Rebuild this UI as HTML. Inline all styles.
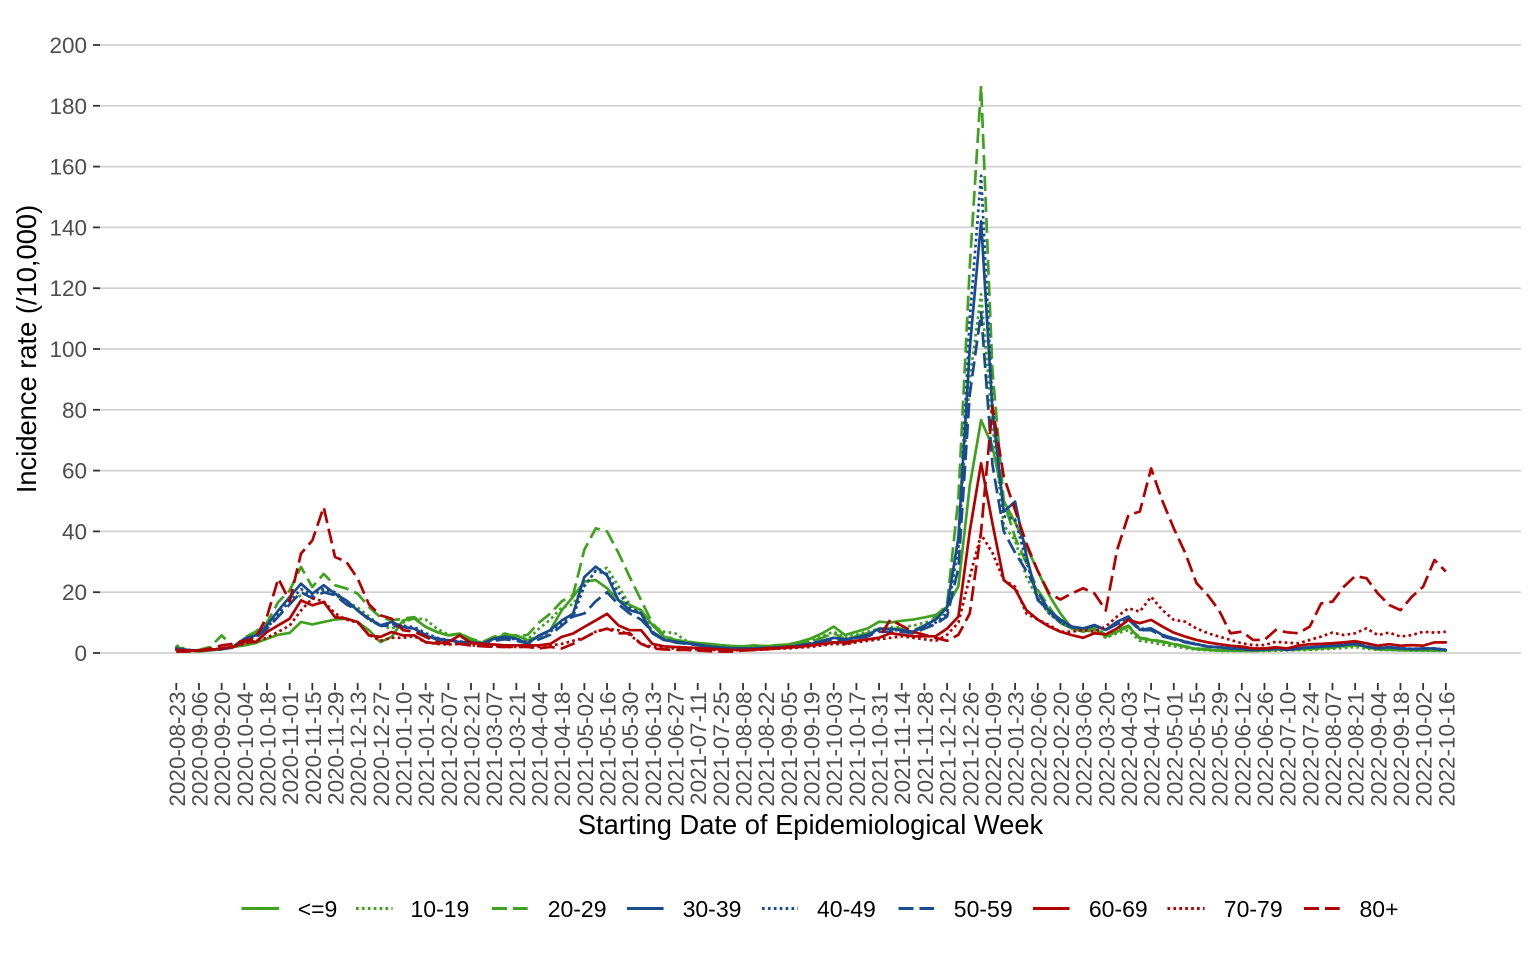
<!DOCTYPE html>
<html><head><meta charset="utf-8">
<style>
html,body{margin:0;padding:0;background:#fff;}
svg{display:block;font-family:"Liberation Sans",Arial,sans-serif;}
.yt{font-size:22.5px;fill:#4d4d4d;text-anchor:end;}
.xt{font-size:22.5px;fill:#4d4d4d;text-anchor:end;}
.ttl{font-size:27.3px;fill:#000;text-anchor:middle;}
.lg{font-size:23px;fill:#000;}
</style></head>
<body>
<svg id="c" width="1536" height="960" xmlns="http://www.w3.org/2000/svg">
<rect width="1536" height="960" fill="#fff"/>
<g id="grid"></g>
<g id="yl">
<text class="yt" x="87" y="661">0</text>
<text class="yt" x="87" y="600.2">20</text>
<text class="yt" x="87" y="539.4">40</text>
<text class="yt" x="87" y="478.6">60</text>
<text class="yt" x="87" y="417.8">80</text>
<text class="yt" x="87" y="357">100</text>
<text class="yt" x="87" y="296.2">120</text>
<text class="yt" x="87" y="235.4">140</text>
<text class="yt" x="87" y="174.6">160</text>
<text class="yt" x="87" y="113.8">180</text>
<text class="yt" x="87" y="53">200</text>
</g>
<g id="xl">
<text class="xt" transform="translate(184.8,691.5) rotate(-90)">2020-08-23</text>
<text class="xt" transform="translate(207.47,691.5) rotate(-90)">2020-09-06</text>
<text class="xt" transform="translate(230.14,691.5) rotate(-90)">2020-09-20</text>
<text class="xt" transform="translate(252.81,691.5) rotate(-90)">2020-10-04</text>
<text class="xt" transform="translate(275.48,691.5) rotate(-90)">2020-10-18</text>
<text class="xt" transform="translate(298.15,691.5) rotate(-90)">2020-11-01</text>
<text class="xt" transform="translate(320.82,691.5) rotate(-90)">2020-11-15</text>
<text class="xt" transform="translate(343.49,691.5) rotate(-90)">2020-11-29</text>
<text class="xt" transform="translate(366.16,691.5) rotate(-90)">2020-12-13</text>
<text class="xt" transform="translate(388.83,691.5) rotate(-90)">2020-12-27</text>
<text class="xt" transform="translate(411.5,691.5) rotate(-90)">2021-01-10</text>
<text class="xt" transform="translate(434.17,691.5) rotate(-90)">2021-01-24</text>
<text class="xt" transform="translate(456.84,691.5) rotate(-90)">2021-02-07</text>
<text class="xt" transform="translate(479.51,691.5) rotate(-90)">2021-02-21</text>
<text class="xt" transform="translate(502.18,691.5) rotate(-90)">2021-03-07</text>
<text class="xt" transform="translate(524.85,691.5) rotate(-90)">2021-03-21</text>
<text class="xt" transform="translate(547.52,691.5) rotate(-90)">2021-04-04</text>
<text class="xt" transform="translate(570.19,691.5) rotate(-90)">2021-04-18</text>
<text class="xt" transform="translate(592.86,691.5) rotate(-90)">2021-05-02</text>
<text class="xt" transform="translate(615.53,691.5) rotate(-90)">2021-05-16</text>
<text class="xt" transform="translate(638.2,691.5) rotate(-90)">2021-05-30</text>
<text class="xt" transform="translate(660.87,691.5) rotate(-90)">2021-06-13</text>
<text class="xt" transform="translate(683.54,691.5) rotate(-90)">2021-06-27</text>
<text class="xt" transform="translate(706.21,691.5) rotate(-90)">2021-07-11</text>
<text class="xt" transform="translate(728.88,691.5) rotate(-90)">2021-07-25</text>
<text class="xt" transform="translate(751.55,691.5) rotate(-90)">2021-08-08</text>
<text class="xt" transform="translate(774.22,691.5) rotate(-90)">2021-08-22</text>
<text class="xt" transform="translate(796.89,691.5) rotate(-90)">2021-09-05</text>
<text class="xt" transform="translate(819.56,691.5) rotate(-90)">2021-09-19</text>
<text class="xt" transform="translate(842.23,691.5) rotate(-90)">2021-10-03</text>
<text class="xt" transform="translate(864.9,691.5) rotate(-90)">2021-10-17</text>
<text class="xt" transform="translate(887.57,691.5) rotate(-90)">2021-10-31</text>
<text class="xt" transform="translate(910.24,691.5) rotate(-90)">2021-11-14</text>
<text class="xt" transform="translate(932.91,691.5) rotate(-90)">2021-11-28</text>
<text class="xt" transform="translate(955.58,691.5) rotate(-90)">2021-12-12</text>
<text class="xt" transform="translate(978.25,691.5) rotate(-90)">2021-12-26</text>
<text class="xt" transform="translate(1000.92,691.5) rotate(-90)">2022-01-09</text>
<text class="xt" transform="translate(1023.59,691.5) rotate(-90)">2022-01-23</text>
<text class="xt" transform="translate(1046.26,691.5) rotate(-90)">2022-02-06</text>
<text class="xt" transform="translate(1068.93,691.5) rotate(-90)">2022-02-20</text>
<text class="xt" transform="translate(1091.6,691.5) rotate(-90)">2022-03-06</text>
<text class="xt" transform="translate(1114.27,691.5) rotate(-90)">2022-03-20</text>
<text class="xt" transform="translate(1136.94,691.5) rotate(-90)">2022-04-03</text>
<text class="xt" transform="translate(1159.61,691.5) rotate(-90)">2022-04-17</text>
<text class="xt" transform="translate(1182.28,691.5) rotate(-90)">2022-05-01</text>
<text class="xt" transform="translate(1204.95,691.5) rotate(-90)">2022-05-15</text>
<text class="xt" transform="translate(1227.62,691.5) rotate(-90)">2022-05-29</text>
<text class="xt" transform="translate(1250.29,691.5) rotate(-90)">2022-06-12</text>
<text class="xt" transform="translate(1272.96,691.5) rotate(-90)">2022-06-26</text>
<text class="xt" transform="translate(1295.63,691.5) rotate(-90)">2022-07-10</text>
<text class="xt" transform="translate(1318.3,691.5) rotate(-90)">2022-07-24</text>
<text class="xt" transform="translate(1340.97,691.5) rotate(-90)">2022-08-07</text>
<text class="xt" transform="translate(1363.64,691.5) rotate(-90)">2022-08-21</text>
<text class="xt" transform="translate(1386.31,691.5) rotate(-90)">2022-09-04</text>
<text class="xt" transform="translate(1408.98,691.5) rotate(-90)">2022-09-18</text>
<text class="xt" transform="translate(1431.65,691.5) rotate(-90)">2022-10-02</text>
<text class="xt" transform="translate(1454.32,691.5) rotate(-90)">2022-10-16</text>
</g>
<text class="ttl" x="810.5" y="834">Starting Date of Epidemiological Week</text>
<text class="ttl" transform="translate(36,349) rotate(-90)">Incidence rate (/10,000)</text>
<g id="lines"></g>
<g id="legend" fill="none" stroke-width="3">
<line x1="241.5" y1="908.5" x2="279" y2="908.5" stroke="#3FA11F"/>
<line x1="356" y1="908.5" x2="392.6" y2="908.5" stroke="#3FA11F" stroke-dasharray="2.7 3.2"/>
<line x1="492" y1="908.5" x2="527.7" y2="908.5" stroke="#3FA11F" stroke-dasharray="15 6"/>
<line x1="627" y1="908.5" x2="663.6" y2="908.5" stroke="#1A4B8E"/>
<line x1="762" y1="908.5" x2="798" y2="908.5" stroke="#1A4B8E" stroke-dasharray="2.7 3.2"/>
<line x1="898.5" y1="908.5" x2="934" y2="908.5" stroke="#1A4B8E" stroke-dasharray="15 6"/>
<line x1="1033" y1="908.5" x2="1069.5" y2="908.5" stroke="#B20000"/>
<line x1="1167.5" y1="908.5" x2="1204.6" y2="908.5" stroke="#B20000" stroke-dasharray="2.7 3.2"/>
<line x1="1304" y1="908.5" x2="1339.7" y2="908.5" stroke="#B20000" stroke-dasharray="15 6"/>
</g>
<g>
<text class="lg" x="297.7" y="917">&lt;=9</text>
<text class="lg" x="410.5" y="917">10-19</text>
<text class="lg" x="547.7" y="917">20-29</text>
<text class="lg" x="682.6" y="917">30-39</text>
<text class="lg" x="817" y="917">40-49</text>
<text class="lg" x="953.8" y="917">50-59</text>
<text class="lg" x="1088.9" y="917">60-69</text>
<text class="lg" x="1223.8" y="917">70-79</text>
<text class="lg" x="1359.5" y="917">80+</text>
</g>
</svg>
<script>
(function(){
var NS="http://www.w3.org/2000/svg";
function X(i){return 176.3+11.335*i;}
function Y(v){return 653-3.04*v;}
function el(tag,attrs,parent){var e=document.createElementNS(NS,tag);for(var k in attrs)e.setAttribute(k,attrs[k]);parent.appendChild(e);return e;}
var grid=document.getElementById('grid');
for(var v=0;v<=200;v+=20){
  var y=Y(v);
  el('line',{x1:100,x2:1521,y1:y,y2:y,stroke:'#d0d0d0','stroke-width':1.7},grid);
  el('line',{x1:93,x2:100,y1:y,y2:y,stroke:'#333','stroke-width':1.8},grid);
}
for(var k=0;k<57;k++){
  var x=X(2*k);
  el('line',{x1:x,x2:x,y1:683,y2:690,stroke:'#333','stroke-width':1.8},grid);
}
function parse(s){
  var pts=s.split(',').map(function(p){return p.split(':').map(Number);});
  var arr=[];
  for(var k=0;k<pts.length-1;k++){
    var i0=pts[k][0],v0=pts[k][1],i1=pts[k+1][0],v1=pts[k+1][1];
    for(var i=i0;i<=i1;i++){arr[i]=v0+(v1-v0)*(i-i0)/(i1-i0);}
  }
  return arr;
}
var G="#3FA11F",B="#1A4B8E",R="#B20000";
var DOT="2.7 3.2",DASH="15 6";
var S=[
[G,null,"0:2,1:0.9,2:0.5,3:0.9,4:1.2,5:2,6:2.5,7:3.3,8:4.7,9:6,10:6.6,11:10.2,12:9.4,13:10.2,14:11,15:11.3,16:10.2,17:7.5,18:3.6,19:5.3,20:10.7,21:11.3,22:8.6,23:6.9,24:5.8,25:6.4,26:4.2,27:3.3,28:4.7,29:5.8,30:5.8,31:4.2,32:5.4,33:7.6,34:14,35:18.5,36:23.5,37:24,38:21.3,39:17.4,40:15.8,41:14.1,42:9.2,43:5.4,44:4.3,45:3.7,46:3.3,47:3,48:2.6,49:2.3,50:2.2,51:2.5,52:2.2,53:2.6,54:2.8,55:3.7,56:4.8,57:6.5,58:8.7,59:5.9,60:7,61:8.1,62:10.3,63:10,64:10.6,65:11,66:11.7,67:12.5,68:15.2,69:22,70:55,71:76.6,72:68,73:50,74:43,75:35,76:27,77:19,78:13,79:8.1,80:7,81:8.1,82:5.4,83:7,84:8.7,85:4.8,86:4.3,87:3.7,88:2.9,89:2.1,90:1.3,91:1,92:0.8,95:0.7,97:1,100:1.3,102:1.8,104:2.8,105:2,106:1.2,108:0.9,112:0.8"],
[G,DOT,"0:2.5,1:1,2:0.8,3:1,4:1.5,5:2,6:3.5,7:6,8:9,9:13,10:17,11:19,12:20,13:21,14:19,15:17,16:15,17:12,18:9,19:8,20:10,21:11.5,22:11,23:8,24:6,25:5.5,26:4,27:3.5,28:5,29:6,30:5.5,31:4.5,32:8,33:11,34:15,35:16,36:22,37:27,38:28,39:22,40:16,41:13,42:9,43:7,44:6.5,45:4,46:3,47:2.5,48:2.2,49:2,51:2.2,52:2,54:2.5,55:3.5,56:4,57:5.5,58:7,59:5,60:6,61:7,62:8,63:8.5,64:8.5,65:9,66:10,67:11,68:14,69:35,70:90,71:118,72:75,73:42,74:37,75:25,76:18,77:13,78:10,79:8,80:7,81:7.5,82:5,83:6.5,84:7.5,85:4,86:3.5,87:2.8,88:2.2,89:1.6,90:1.1,91:0.9,92:0.7,96:0.7,100:1,103:1.6,104:2,105:1.4,106:1,112:0.7"],
[G,DASH,"0:2,1:0.5,2:1,3:2,4:5.8,5:2,6:5,7:7,8:10,9:16.8,10:20.6,11:28.3,12:21.7,13:26,14:22.3,15:21.2,16:19.5,17:15.1,18:11.8,19:10.7,20:11.3,21:11.8,22:8.6,23:6.9,24:5.8,25:6.4,26:4.7,27:3.6,28:5.3,29:6.4,30:5.3,31:6,32:10,33:13,34:17,35:19,36:34,37:41,38:40,39:33,40:25,41:17.4,42:9.8,43:6,44:4.3,45:3.7,46:3.2,47:2.8,48:2.5,49:2.2,50:2.2,51:2.3,52:2.3,53:2.5,54:2.7,55:3.2,56:3.8,57:5,58:6.5,59:4.5,60:5.5,61:6.5,62:8,63:8,64:8,65:7.5,66:9,67:12,68:16,69:51,70:127,71:186.5,72:93,73:50,74:38,75:29.5,76:20.7,77:15.2,78:9.8,79:8.1,80:7.5,81:8.5,82:6,83:7.5,84:9,85:5,86:4.5,87:3.8,88:3,89:2.2,90:1.5,91:1.2,92:1,94:0.9,97:1.1,100:1.3,102:1.8,104:2.5,105:1.8,106:1.3,108:1,112:1"],
[B,null,"0:1.5,1:1,2:0.8,3:1,4:1.5,5:2,6:4.7,7:5.8,8:9.1,9:14,10:18.4,11:22.8,12:19.5,13:22.3,14:19.5,15:17.3,16:14,17:11.3,18:9.1,19:10.2,20:8.6,21:8,22:5.8,23:4.4,24:4.2,25:3.6,26:3.6,27:3.1,28:4.7,29:5.3,30:4.7,31:3.1,32:5.8,33:7.5,34:10.7,35:12.9,36:25,37:28.4,38:25.5,39:17.4,40:14.1,41:13,42:6.5,43:4.3,44:3.7,45:3.2,46:2.8,47:2.2,48:1.8,49:1.5,50:1.4,51:1.5,52:1.6,53:1.8,54:2,55:2.5,56:3,57:4,58:5,59:4.5,60:5,61:6,62:8,63:8,64:7.5,65:7,66:9,67:11,68:15,69:38,70:100,71:142,72:80,73:46.5,74:49.8,75:32,76:17.4,77:14,78:11,79:8.7,80:8.1,81:9.2,82:7.6,83:10.3,84:12,85:7.6,86:8.1,87:5.9,88:4.8,89:3.7,90:2.9,91:2.1,92:1.9,93:1.5,94:1.3,95:1,96:1.2,97:1.5,98:1,99:1.5,100:1.9,101:2.1,102:2.4,103:2.6,104:3.2,105:2.1,106:1.5,107:1.9,108:1.5,109:1.3,110:1.5,111:1.5,112:1"],
[B,DOT,"0:1.2,2:0.8,4:1.3,5:2,6:4,7:5.5,8:8,9:13,10:17,11:21,12:19,13:21,14:20,15:17,16:14,17:11,18:9,19:9.5,20:9,21:8.5,22:6.5,23:5,24:4.2,25:3.8,26:3.5,27:3.2,28:4.5,29:5,30:4.5,31:3.5,32:5.5,33:7,34:10,35:12,36:22,37:27,38:26,39:20,40:15,41:13,42:7,43:4.5,44:3.8,45:3.2,46:2.8,47:2.2,48:1.8,49:1.6,50:1.5,51:1.6,52:1.7,53:1.9,54:2.1,55:2.6,56:3.2,57:4,58:5,59:4.5,60:5.2,61:6,62:7.5,63:7.5,64:7.5,65:7,66:8.5,67:10,68:13,69:35,70:110,71:157,72:82,73:45,74:44,75:30,76:18,77:13,78:10,79:8.5,80:8,81:9,82:7.5,83:10,84:11.5,85:8,86:8,87:6,88:4.8,89:3.8,90:3,91:2.2,92:1.9,93:1.6,94:1.4,95:1.1,96:1.2,97:1.5,98:1.1,99:1.5,100:1.9,101:2.2,102:2.4,103:2.7,104:3.2,105:2.2,106:1.6,107:1.9,108:1.6,109:1.4,110:1.5,111:1.5,112:1.1"],
[B,DASH,"0:1,2:0.8,4:1.2,5:1.8,6:3.5,7:5,8:8,9:12,10:16,11:20,12:18,13:20,14:19,15:16,16:14,17:11,18:9,19:9,20:8.5,21:8,22:6,23:4.8,24:4,25:3.6,26:3.4,27:3,28:4,29:4.5,30:4,31:3.2,32:4.5,33:6,34:9,35:12,36:13,37:17,38:20,39:16,40:13,41:11,42:7,43:4.5,44:3.5,45:3,46:2.6,47:2.1,48:1.8,49:1.6,50:1.5,51:1.6,52:1.7,53:1.9,54:2.1,55:2.5,56:3,57:3.8,58:4.5,59:4.2,60:4.8,61:5.5,62:7,63:7,64:7,65:6.5,66:8,67:9.5,68:12,69:28,70:85,71:112,72:62,73:40,74:33,75:27,76:20,77:14,78:10,79:8.5,80:8,81:9,82:7.5,83:9.5,84:11,85:7.5,86:7.5,87:5.5,88:4.5,89:3.5,90:2.8,91:2.1,92:1.8,93:1.5,94:1.3,95:1,96:1.1,97:1.4,98:1,99:1.4,100:1.8,101:2.1,102:2.3,103:2.5,104:3,105:2.1,106:1.5,107:1.8,108:1.5,109:1.3,110:1.4,111:1.4,112:1"],
[R,null,"0:1,1:0.8,2:0.8,3:1,4:1.5,5:2,6:3.6,7:3.6,8:6.9,9:9.1,10:11.3,11:17.3,12:15.7,13:16.8,14:11.8,15:11.3,16:10.2,17:5.8,18:5.3,19:6.9,20:5.8,21:5.8,22:3.6,23:3.1,24:3.6,25:5.8,26:3.3,27:3,28:2.8,29:2.5,32:2.5,33:3,34:5.3,35:6.4,36:8.6,37:10.7,38:12.9,39:9.1,40:7.5,41:7.5,42:3,43:2.2,44:2,45:1.8,46:1.6,47:1.4,48:1.2,49:1,50:1,51:1.2,52:1.2,53:1.5,54:1.8,55:2,56:2.5,57:3,58:3.5,59:3.5,60:4,61:4.5,62:5,63:6.5,64:6,65:5.5,67:5.5,68:8,69:12,70:40,71:62.4,72:42.7,73:24,74:21,75:14.1,76:11,77:8.7,78:7,79:5.9,80:5,81:6.5,82:6.1,83:8.1,84:10.9,85:9.8,86:10.9,87:8.7,88:6.7,89:5.4,90:4.3,91:3.5,92:2.9,93:2.4,94:2.1,95:1.5,96:1.5,97:1.9,98:1.5,99:2.4,100:2.9,101:3,102:3.2,103:3.5,104:3.9,105:3.2,106:2.4,107:2.9,108:2.4,109:2.6,110:2.4,111:3.5,112:3.5"],
[R,DOT,"0:0.5,1:0.5,2:0.8,3:1,4:1.5,5:2,6:3,7:4,8:5,9:7,10:9,11:14,12:18,13:17,14:13,15:11,16:10,17:6,18:4,19:5,20:5,21:5.5,22:3.5,23:3,24:2.8,25:3,26:2.5,27:2.5,28:2.2,29:2,32:2,33:2.5,34:3,35:4,36:5,37:7,38:8,39:7.5,40:6,41:3,42:2,43:1.5,44:1.5,45:1.2,46:1.2,47:1,48:1,49:0.8,50:1,51:1,52:1.2,53:1.4,54:1.5,55:1.8,56:2,57:2.5,58:3,59:2.8,60:3.5,61:4,62:4.5,63:5,64:5.5,65:5,66:4.5,67:4,68:6,69:10,70:25,71:39,72:33,73:24,74:21.8,75:13,76:11,77:9.2,78:7,79:7,80:7.6,81:7,82:8.7,83:12,84:14.7,85:13.6,86:18.5,87:14.1,88:10.9,89:10.3,90:8.1,91:6.5,92:5.4,93:4.3,94:3.2,95:2.6,96:2.6,97:3.7,98:3.4,99:3.2,100:4.3,101:5.4,102:6.7,103:5.9,104:6.5,105:8.1,106:5.9,107:6.7,108:5.4,109:5.9,110:7,111:6.7,112:7"],
[R,DASH,"0:0.5,1:0.5,2:0.8,3:1.5,4:2.5,5:3,6:4,7:5,8:12,9:24.5,10:17,11:32.7,12:37,13:48,14:31.6,15:30,16:24.5,17:16,18:12.4,19:11.3,20:7.5,21:7,22:5.3,23:3.6,24:3,25:3,26:2.5,27:2.2,28:2,31:2,32:1.5,33:2,34:1.5,35:3,36:5,37:7,38:8,39:6.5,40:6.5,41:3,42:1.5,43:1.2,44:1,45:1,46:0.8,47:0.6,48:0.5,49:0.5,50:0.8,51:1,52:1.5,53:1.8,54:2,55:2.2,56:2.5,57:2.8,58:3.5,59:3,60:4,61:4.5,62:5,63:11,64:9,65:7,66:6,67:5,68:4,69:6,70:13,71:40,72:81,73:58,74:47,75:36,76:27,77:19.6,78:17.6,79:19.6,80:21.3,81:19.6,82:14,83:33.9,84:45.4,85:46.5,86:60.7,87:50,88:41,89:33,90:23,91:19,92:14,93:6.5,94:7,95:4.3,96:4.3,97:7.6,98:6.8,99:6.5,100:8.7,101:16.3,102:16.9,103:21.8,104:25.3,105:24.6,106:19.6,107:15.8,108:14.1,109:18.5,110:21.8,111:30.6,112:26.8"]
];
var lines=document.getElementById('lines');
S.forEach(function(s){
  var a=parse(s[2]);var d='';
  for(var i=0;i<a.length;i++){d+=(i?'L':'M')+X(i).toFixed(2)+' '+Y(a[i]).toFixed(2);}
  var at={d:d,fill:'none',stroke:s[0],'stroke-width':2.7,'stroke-linejoin':'round','stroke-linecap':s[1]?'butt':'round'};
  if(s[1])at['stroke-dasharray']=s[1];
  el('path',at,lines);
});
})();
</script>
</body></html>
